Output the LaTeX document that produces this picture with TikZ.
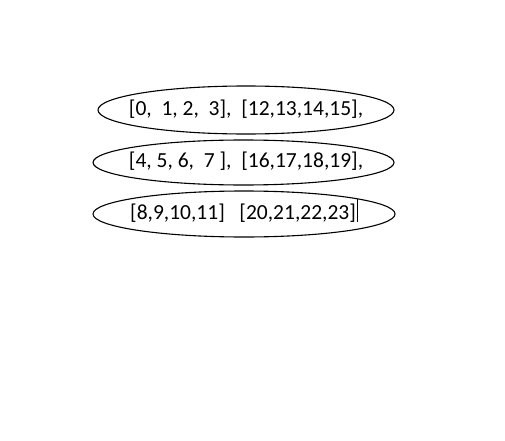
\documentclass[tikz,border=0pt]{standalone}
\usepackage{fontspec}
\setmainfont{Carlito}
\usepackage{tikz}
\usetikzlibrary{shapes.geometric}

\begin{document}
\begin{tikzpicture}[x=1pt,y=1pt, every node/.style={font=\fontsize{21.5}{24}\selectfont}]
\useasboundingbox (0,0) rectangle (505,440);
\node[draw,line width=1.1pt,ellipse,inner sep=0pt,minimum width=296pt,minimum height=48pt] (e0) at (246,330) {};
\node[draw,line width=1.1pt,ellipse,inner sep=0pt,minimum width=301pt,minimum height=45pt] (e1) at (243.5,277.5) {};
\node[draw,line width=1.1pt,ellipse,inner sep=0pt,minimum width=302pt,minimum height=46pt] (e2) at (244,226) {};
\node (t0) at (246,331) {[0,\ \ 1, 2,\ \ 3],\ \ [12,13,14,15],};
\node (t1) at (246,279) {[4, 5, 6,\ \ 7 ],\ \ [16,17,18,19],};
\node (t2) at (243,227) {[8,9,10,11]\ \ \ [20,21,22,23]};
\coordinate (c0) at ([xshift=-1.5pt,yshift=1pt]t2.north east);
\coordinate (c1) at ([xshift=-1.5pt,yshift=4pt]t2.south east);
\draw[line width=1pt] (c0)--(c1);
\end{tikzpicture}
\end{document}
